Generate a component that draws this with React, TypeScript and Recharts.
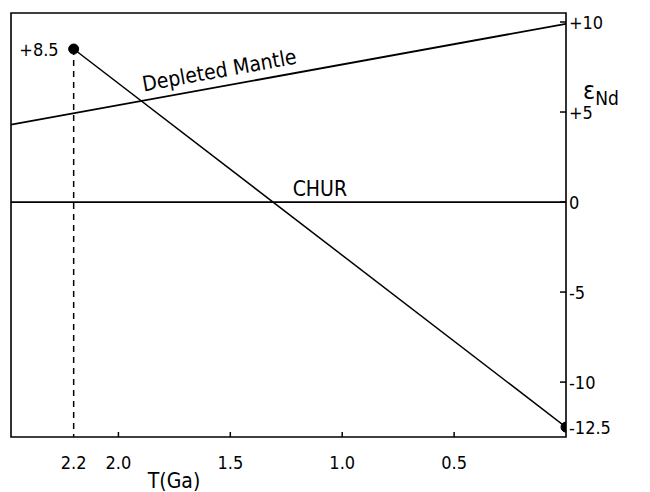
import React from "react";
import {
  ComposedChart,
  Line,
  XAxis,
  YAxis,
  ReferenceArea,
  ReferenceDot,
  Label,
} from "recharts";

// age axis (Ga, reversed) and epsilon-Nd axis
const AGE_TICKS = [2.2, 2.0, 1.5, 1.0, 0.5];
const EPS_TICKS = [10, 5, 0, -5, -10, -12.5];
const AGE_DOMAIN = [0, 2.48];
const EPS_DOMAIN = [-13.05, 10.5];

const depletedMantle = [
  { t: 2.48, e: 4.3 },
  { t: 0, e: 9.9 },
];
const chur = [
  { t: 2.48, e: 0 },
  { t: 0, e: 0 },
];
const sample = [
  { t: 2.2, e: 8.5 },
  { t: 0, e: -12.5 },
];
const dropLine = [
  { t: 2.2, e: 8.5 },
  { t: 2.2, e: -13.05 },
];

const FONT = "'DejaVu Sans Condensed', 'Liberation Sans Narrow', 'DejaVu Sans', sans-serif";
const INK = "#000";
const TICK_FS = 18;
const LABEL_FS = 21;

const fmtEps = (v: number) => (v > 0 ? `+${v}` : `${v}`);

function EpsTick(props: any) {
  const { x, y, payload } = props;
  const v = payload.value;
  return (
    <g>
      {v !== -12.5 && <line x1={x - 6} y1={y} x2={x} y2={y} stroke={INK} strokeWidth={1.5} />}
      <text x={x + 3} y={y + 7} fontSize={TICK_FS} fontFamily={FONT} fill={INK}>
        {fmtEps(v)}
      </text>
    </g>
  );
}

function AgeTick(props: any) {
  const { x, y, payload } = props;
  const v = payload.value;
  return (
    <g>
      {v !== 2.2 && <line x1={x} y1={y} x2={x} y2={y - 5} stroke={INK} strokeWidth={1.5} />}
      <text x={x} y={y + 32} fontSize={TICK_FS} fontFamily={FONT} fill={INK} textAnchor="middle">
        {v.toFixed(1)}
      </text>
    </g>
  );
}

export default function App() {
  return (
    <div style={{ position: "absolute", left: 0, top: 0, background: "#fff" }}>
      <ComposedChart width={650} height={492} margin={{ top: 13, right: 0, left: 11, bottom: 0 }}>
        <XAxis
          type="number"
          dataKey="t"
          domain={AGE_DOMAIN}
          reversed
          allowDataOverflow
          ticks={AGE_TICKS}
          interval={0}
          tickSize={0}
          tickMargin={0}
          axisLine={false}
          tick={<AgeTick />}
          height={55}
        >
          <Label
            content={(p: any) => {
              const vb = p.viewBox;
              return (
                <text x={vb.x + 163} y={vb.y + 51} fontSize={LABEL_FS} fontFamily={FONT} fill={INK} textAnchor="middle">
                  T(Ga)
                </text>
              );
            }}
          />
        </XAxis>
        <YAxis
          type="number"
          dataKey="e"
          orientation="right"
          domain={EPS_DOMAIN}
          allowDataOverflow
          ticks={EPS_TICKS}
          interval={0}
          tickSize={0}
          tickMargin={0}
          axisLine={false}
          tick={<EpsTick />}
          width={84}
        >
          <Label
            content={(p: any) => {
              const vb = p.viewBox;
              return (
                <text x={vb.x + 17} y={vb.y + 86} fontFamily={FONT} fill={INK}>
                  <tspan fontSize={25}>ε</tspan>
                  <tspan fontSize={19} dy={6}>Nd</tspan>
                </text>
              );
            }}
          />
        </YAxis>
        <ReferenceArea
          x1={AGE_DOMAIN[0]}
          x2={AGE_DOMAIN[1]}
          y1={EPS_DOMAIN[0]}
          y2={EPS_DOMAIN[1]}
          fill="none"
          stroke={INK}
          strokeWidth={1.6}
          ifOverflow="visible"
        />
        <Line
          data={chur}
          dataKey="e"
          stroke={INK}
          strokeWidth={1.8}
          dot={false}
          isAnimationActive={false}
        />
        <Line
          data={depletedMantle}
          dataKey="e"
          stroke={INK}
          strokeWidth={1.8}
          dot={false}
          isAnimationActive={false}
        />
        <Line
          data={dropLine}
          dataKey="e"
          stroke={INK}
          strokeWidth={1.5}
          strokeDasharray="6 5"
          dot={false}
          isAnimationActive={false}
        />
        <Line
          data={sample}
          dataKey="e"
          stroke={INK}
          strokeWidth={1.5}
          dot={{ r: 5, fill: INK, stroke: INK, strokeWidth: 1 }}
          isAnimationActive={false}
        />
        <ReferenceDot
          x={2.2}
          y={8.5}
          r={0}
          label={(p: any) => {
            const vb = p.viewBox;
            return (
              <text x={vb.x - 15} y={vb.y + 7} fontSize={TICK_FS} fontFamily={FONT} fill={INK} textAnchor="end">
                +8.5
              </text>
            );
          }}
        />
        <ReferenceDot
          x={1.1}
          y={0}
          r={0}
          label={(p: any) => {
            const vb = p.viewBox;
            return (
              <text x={vb.x} y={vb.y - 6} fontSize={LABEL_FS} fontFamily={FONT} fill={INK} textAnchor="middle">
                CHUR
              </text>
            );
          }}
        />
        <ReferenceDot
          x={1.536}
          y={6.43}
          r={0}
          label={(p: any) => {
            const vb = p.viewBox;
            const cx = vb.x;
            const cy = vb.y;
            return (
              <text
                x={cx}
                y={cy - 9}
                fontSize={LABEL_FS}
                fontFamily={FONT}
                fill={INK}
                textAnchor="middle"
                transform={`rotate(-10.3 ${cx} ${cy})`}
              >
                Depleted Mantle
              </text>
            );
          }}
        />
      </ComposedChart>
    </div>
  );
}
